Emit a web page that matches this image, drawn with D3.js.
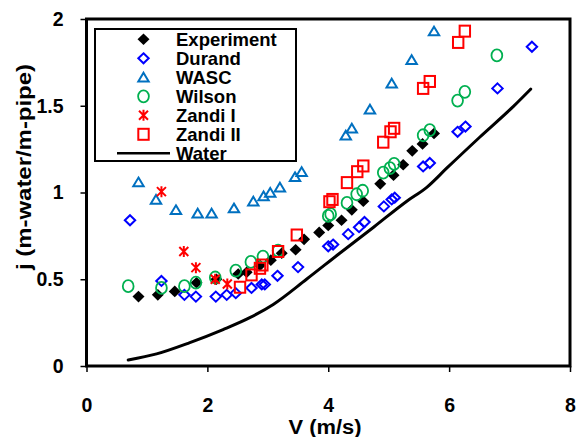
<!DOCTYPE html>
<html>
<head>
<meta charset="utf-8">
<script src="https://cdn.jsdelivr.net/npm/d3@7"></script>
<style>
  body { margin: 0; background: #fff; }
  text { font-family: "Liberation Sans", Arial, sans-serif; font-weight: bold; }
</style>
</head>
<body>
<svg id="chart" width="580" height="437"></svg>
<script>
// Measured friction head j (m-water/m-pipe) against mean velocity V (m/s)
const experiment = [
  [0.86,0.40],[1.18,0.41],[1.46,0.43],[1.82,0.48],[2.15,0.50],[2.51,0.53],
  [2.65,0.54],[2.87,0.58],[3.05,0.61],[3.23,0.65],[3.46,0.67],[3.60,0.73],
  [3.85,0.77],[4.00,0.81],[4.22,0.84],[4.39,0.90],[4.58,0.95],[4.86,1.05],
  [5.08,1.10],[5.24,1.16],[5.39,1.24],[5.56,1.28],[5.75,1.34]
];
const durand = [
  [0.72,0.84],[1.24,0.49],[1.62,0.41],[1.81,0.40],[2.14,0.40],[2.32,0.41],
  [2.47,0.42],[2.73,0.45],[2.90,0.47],[2.95,0.47],[3.16,0.52],[3.50,0.57],
  [4.00,0.69],[4.08,0.70],[4.33,0.76],[4.51,0.80],[4.60,0.83],[4.92,0.92],
  [5.05,0.96],[5.10,0.97],[5.57,1.15],[5.68,1.17],[6.14,1.35],[6.27,1.38],
  [6.80,1.60],[7.37,1.84]
];
const wasc = [
  [0.86,1.06],[1.15,0.96],[1.48,0.90],[1.84,0.88],[2.07,0.88],[2.44,0.91],
  [2.76,0.95],[2.93,0.98],[3.04,1.00],[3.20,1.03],[3.45,1.09],[3.56,1.12],
  [4.29,1.33],[4.39,1.37],[4.69,1.48],[5.05,1.63],[5.38,1.765],[5.75,1.93]
];
const wilson = [
  [0.69,0.46],[1.24,0.45],[1.62,0.46],[1.81,0.48],[2.13,0.51],[2.47,0.55],
  [2.72,0.60],[2.92,0.63],[3.17,0.665],[4.00,0.865],[4.04,0.875],[4.31,0.94],
  [4.47,0.99],[4.57,1.01],[4.91,1.115],[5.02,1.14],[5.09,1.165],[5.57,1.33],
  [5.68,1.36],[6.14,1.53],[6.26,1.58],[6.79,1.79]
];
const zandiI = [
  [1.24,1.005],[1.61,0.66],[1.81,0.567],[2.13,0.50],[2.33,0.473]
];
const zandiII = [
  [2.54,0.454],[2.73,0.525],[2.87,0.563],[2.91,0.582],[3.17,0.66],[3.48,0.755],
  [4.02,0.947],[4.07,0.96],[4.31,1.057],[4.48,1.12],[4.58,1.153],[4.91,1.29],
  [5.03,1.35],[5.09,1.37],[5.57,1.60],[5.68,1.64],[6.15,1.865],[6.26,1.93]
];
const water = [
  [0.69,0.035],[1.16,0.07],[1.71,0.135],[2.26,0.21],[2.71,0.28],[3.09,0.355],
  [3.64,0.50],[4.19,0.65],[4.75,0.80],[5.30,0.95],[5.63,1.03],[5.96,1.14],
  [6.51,1.32],[7.06,1.495],[7.35,1.596]
];

const xTicks = [0, 2, 4, 6, 8];
const yTicks = [0, 0.5, 1, 1.5, 2];
const yTickLabels = ["0", "0.5", "1", "1.5", "2"];
const legendNames = ["Experiment", "Durand", "WASC", "Wilson", "Zandi I", "Zandi II", "Water"];

const svg = d3.select("#chart");
const plot = { left: 86.5, right: 570, top: 19, bottom: 366 };

const x = d3.scaleLinear().domain([0, 8]).range([plot.left, plot.right]);
const y = d3.scaleLinear().domain([0, 2]).range([plot.bottom, plot.top]);

svg.append("rect").attr("width", 580).attr("height", 437).attr("fill", "#fff");

// Marker painters: each draws one symbol centred at (cx, cy)
const markers = {
  experiment: (g, cx, cy) => g.append("path")
    .attr("d", `M${cx},${cy-5.8}L${cx+6},${cy}L${cx},${cy+5.8}L${cx-6},${cy}Z`)
    .attr("fill", "#000"),
  durand: (g, cx, cy) => g.append("path")
    .attr("d", `M${cx},${cy-5}L${cx+5.2},${cy}L${cx},${cy+5}L${cx-5.2},${cy}Z`)
    .attr("fill", "none").attr("stroke", "#0000ff").attr("stroke-width", 2),
  wasc: (g, cx, cy) => g.append("path")
    .attr("d", `M${cx},${cy-4.5}L${cx+5.2},${cy+4.2}L${cx-5.2},${cy+4.2}Z`)
    .attr("fill", "none").attr("stroke", "#0070c0").attr("stroke-width", 2)
    .attr("stroke-linejoin", "miter"),
  wilson: (g, cx, cy) => g.append("ellipse")
    .attr("cx", cx).attr("cy", cy).attr("rx", 5.4).attr("ry", 6)
    .attr("fill", "none").attr("stroke", "#00b050").attr("stroke-width", 1.8),
  zandiI: (g, cx, cy) => g.append("path")
    .attr("d", `M${cx-4.5},${cy-4.5}L${cx+4.5},${cy+4.5}M${cx-4.5},${cy+4.5}L${cx+4.5},${cy-4.5}M${cx},${cy-5.5}L${cx},${cy+5.5}`)
    .attr("fill", "none").attr("stroke", "#ff0000").attr("stroke-width", 2),
  zandiII: (g, cx, cy) => g.append("rect")
    .attr("x", cx - 5.2).attr("y", cy - 5.5).attr("width", 10.4).attr("height", 11)
    .attr("fill", "none").attr("stroke", "#ff0000").attr("stroke-width", 2)
};

const series = [
  { key: "experiment", data: experiment },
  { key: "durand", data: durand },
  { key: "wasc", data: wasc },
  { key: "wilson", data: wilson },
  { key: "zandiI", data: zandiI },
  { key: "zandiII", data: zandiII }
];

const marks = svg.append("g");
series.forEach(s => {
  const g = marks.append("g").attr("class", s.key);
  s.data.forEach(d => markers[s.key](g, x(d[0]), y(d[1])));
});

// Clear-water head loss curve
svg.append("path")
  .datum(water)
  .attr("d", d3.line().x(d => x(d[0])).y(d => y(d[1])).curve(d3.curveMonotoneX))
  .attr("fill", "none").attr("stroke", "#000").attr("stroke-width", 3)
  .attr("stroke-linecap", "round");

// Axes
const xAxis = svg.append("g")
  .attr("transform", `translate(0,${plot.bottom})`)
  .call(d3.axisBottom(x).tickValues(xTicks).tickSize(6).tickPadding(26).tickFormat(d3.format("d")));
const yAxis = svg.append("g")
  .attr("transform", `translate(${plot.left},0)`)
  .call(d3.axisLeft(y).tickValues(yTicks).tickSize(6).tickPadding(17)
    .tickFormat((d, i) => yTickLabels[i]));
[xAxis, yAxis].forEach(a => {
  a.select(".domain").remove();
  a.selectAll(".tick line").attr("stroke", "#000").attr("stroke-width", 1.5);
  a.selectAll(".tick text").attr("fill", "#000")
    .style("font-size", "19.5px").style("font-weight", "bold")
    .style("font-family", '"Liberation Sans", Arial, sans-serif');
});

// Plot frame
svg.append("rect")
  .attr("x", plot.left).attr("y", plot.top)
  .attr("width", plot.right - plot.left).attr("height", plot.bottom - plot.top)
  .attr("fill", "none").attr("stroke", "#000").attr("stroke-width", 3);

// Axis titles
svg.append("text")
  .attr("x", 325).attr("y", 434).attr("text-anchor", "middle")
  .attr("textLength", 73).attr("lengthAdjust", "spacingAndGlyphs")
  .style("font-size", "20px").text("V (m/s)");
svg.append("text")
  .attr("transform", "translate(31,167) rotate(-90)").attr("text-anchor", "middle")
  .attr("textLength", 206).attr("lengthAdjust", "spacingAndGlyphs")
  .style("font-size", "21px").text("j (m-water/m-pipe)");

// Legend
const legend = svg.append("g");
legend.append("rect")
  .attr("x", 95).attr("y", 29).attr("width", 201).attr("height", 132)
  .attr("fill", "#fff").attr("stroke", "#000").attr("stroke-width", 2);
const rowY = i => 39.3 + 19 * i;
series.forEach((s, i) => markers[s.key](legend, 143.5, rowY(i)));
legend.append("line")
  .attr("x1", 117).attr("x2", 170).attr("y1", rowY(6)).attr("y2", rowY(6))
  .attr("stroke", "#000").attr("stroke-width", 2.5);
legendNames.forEach((name, i) => {
  legend.append("text")
    .attr("x", 176).attr("y", rowY(i) + 6.5)
    .style("font-size", "18.5px").text(name);
});
</script>
</body>
</html>
